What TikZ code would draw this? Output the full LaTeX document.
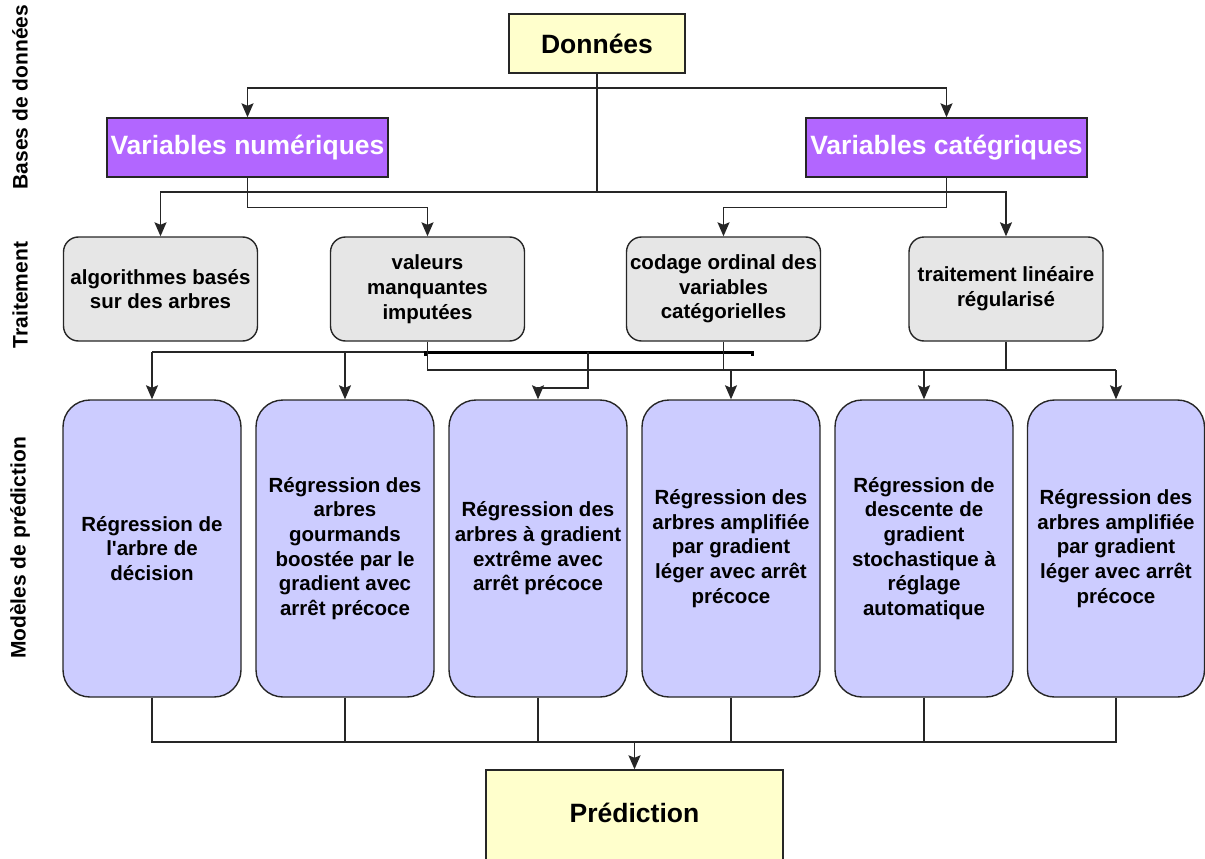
\documentclass[tikz,border=0pt]{standalone}
\usepackage{fontspec}
\setmainfont{Liberation Sans}[Ligatures=TeXOff]
\usetikzlibrary{arrows.meta}
\definecolor{dataYellow}{HTML}{FFFFCC}
\definecolor{varPurple}{HTML}{B266FF}
\definecolor{prepGray}{HTML}{E6E6E6}
\definecolor{modelBlue}{HTML}{CCCCFF}
\begin{document}
\begin{tikzpicture}[x=1pt, y=-1pt,
    every node/.style={font=\fontsize{20.5}{24.7}\selectfont\bfseries, align=center, inner sep=0pt},
    databox/.style={draw=black!85, line width=1.4pt, fill=dataYellow, minimum width=176pt, minimum height=59pt,
                    font=\fontsize{26.5}{31}\selectfont\bfseries},
    varbox/.style={draw=black!85, line width=1.4pt, fill=varPurple, text=white, minimum width=281pt, minimum height=59pt,
                   font=\fontsize{26.5}{31}\selectfont\bfseries},
    prepbox/.style={draw=black!85, line width=1.4pt, fill=prepGray, rounded corners=15pt, minimum width=194pt, minimum height=104pt},
    modelbox/.style={draw=black!85, line width=1.4pt, fill=modelBlue, rounded corners=27pt, minimum width=178pt, minimum height=297pt},
    rowlabel/.style={rotate=90, font=\fontsize{21}{25}\selectfont\bfseries},
    link/.style={draw=black!85, line width=1.5pt},
    arr/.style={link, -{Stealth[length=14pt, width=12pt, inset=2.5pt]}},
    bar/.style={draw=black, line width=3pt},
  ]
  \useasboundingbox (0,0) rectangle (1205,859);
  \clip (0,0) rectangle (1205,859);

  % row labels on the left
  \node[rowlabel] (lbase) at (20,97) {Bases de données};
  \node[rowlabel] (ltrait) at (20,295) {Traitement};
  \node[rowlabel] (lmodel) at (20,548) {Modèles de prédiction};

  % data and variable types
  \node[databox] (don) at (597,43.5) {Données};
  \node[varbox] (vnum) at (247.5,147.5) {Variables numériques};
  \node[varbox] (vcat) at (946.5,147.5) {Variables catégriques};

  % preprocessing
  \node[prepbox] (t1) at (160.5,289) {algorithmes basés\\sur des arbres};
  \node[prepbox] (t2) at (427.5,289) {valeurs\\manquantes\\imputées};
  \node[prepbox] (t3) at (723.5,289) {codage ordinal des\\variables\\catégorielles};
  \node[prepbox] (t4) at (1006,289) {traitement linéaire\\régularisé};

  % prediction models
  \node[modelbox] (m1) at (152,548.5) {Régression de\\l'arbre de\\décision};
  \node[modelbox] (m2) at (345,548.5) {Régression des\\arbres\\gourmands\\boostée par le\\gradient avec\\arrêt précoce};
  \node[modelbox] (m3) at (538,548.5) {Régression des\\arbres à gradient\\extrême avec\\arrêt précoce};
  \node[modelbox] (m4) at (731,548.5) {Régression des\\arbres amplifiée\\par gradient\\léger avec arrêt\\précoce};
  \node[modelbox] (m5) at (924,548.5) {Régression de\\descente de\\gradient\\stochastique à\\réglage\\automatique};
  \node[modelbox, minimum width=177pt] (m6) at (1116,548.5) {Régression des\\arbres amplifiée\\par gradient\\léger avec arrêt\\précoce};

  % output (runs off the bottom edge)
  \node[databox, minimum width=297pt, minimum height=110pt, text depth=24pt] (pred) at (634.5,825) {Prédiction};

  % data -> variables -> preprocessing
  \coordinate (jtop) at (597,88);
  \coordinate (jmid) at (597,192);
  \draw[link] (don) -- (jmid);
  \draw[arr] (jtop) -| (vnum);
  \draw[arr] (jtop) -| (vcat);
  \draw[arr] (jmid) -| (t1);
  \draw[arr] (jmid) -| (t4);
  \draw[arr] (vnum.south) -- ++(0,30) -| (t2);
  \draw[arr] (vcat.south) -- ++(0,30) -| (t3);

  % preprocessing -> models, upper bus
  \coordinate (ul) at (152,352);
  \coordinate (ur) at (752,352);
  \coordinate (ka) at (425,352);
  \coordinate (uk) at (588,352);
  \draw[link] (ul) -- (ur);
  \draw[bar] ([shift={(0,4)}]ka) -- (ka) -- (ur) -- ([shift={(0,4)}]ur);
  \draw[arr] (ul) -- (m1);
  \draw[arr] (m2 |- ul) -- (m2);
  \draw[arr] (uk) -- ++(0,36) -| (m3);

  % preprocessing -> models, lower bus
  \coordinate (bl) at (427.5,370);
  \coordinate (br) at (1116,370);
  \draw[link] (t2) -- (bl) -- (br);
  \draw[link] (t3) -- (t3 |- bl);
  \draw[link] (t4) -- (t4 |- bl);
  \draw[arr] (m4 |- bl) -- (m4);
  \draw[arr] (m5 |- bl) -- (m5);
  \draw[arr] (m6 |- bl) -- (m6);

  % models -> prediction
  \coordinate (jbot) at (634.5,742);
  \foreach \i in {1,...,6}
    \draw[link] (m\i) |- (jbot);
  \draw[arr] (jbot) -- (pred);
\end{tikzpicture}
\end{document}
